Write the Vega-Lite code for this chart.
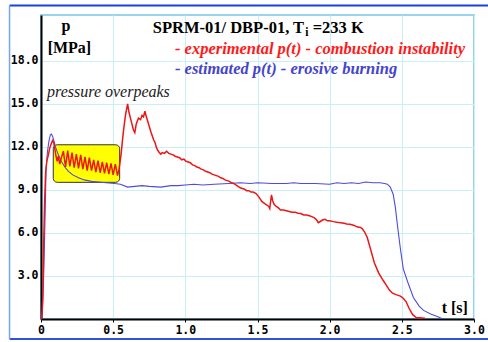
{
  "$schema": "https://vega.github.io/schema/vega-lite/v6.json",
  "width": 433,
  "height": 304,
  "autosize": {"type": "none"},
  "padding": {"left": 41, "top": 15, "right": 14, "bottom": 23},
  "background": "white",
  "config": {
    "view": {"stroke": "#98d4f0", "strokeWidth": 2},
    "axis": {"labelFont": "DejaVu Sans Mono", "labelFontWeight": "bold", "labelFontSize": 11.5, "labelColor": "#000000", "domainColor": "#000000", "domainWidth": 2, "gridColor": "#c8f0f8", "gridWidth": 1, "tickColor": "#000000"}
  },
  "datasets": {
    "red": [
      {"t":0.005,"p":0},{"t":0.012,"p":1.5},{"t":0.018,"p":5},{"t":0.025,"p":8.2},{"t":0.032,"p":10.2},{"t":0.04,"p":11.0},{"t":0.05,"p":11.4},{"t":0.06,"p":11.9},{"t":0.07,"p":12.2},{"t":0.08,"p":12.45},{"t":0.088,"p":12.3},{"t":0.095,"p":11.9},{"t":0.103,"p":11.4},{"t":0.112,"p":11.0},{"t":0.12,"p":11.35},{"t":0.13,"p":10.8},{"t":0.14,"p":11.2},{"t":0.155,"p":11.7},{"t":0.17,"p":10.6},{"t":0.185,"p":11.75},{"t":0.2,"p":10.65},{"t":0.215,"p":11.6},{"t":0.23,"p":10.55},{"t":0.245,"p":11.5},{"t":0.26,"p":10.5},{"t":0.275,"p":11.45},{"t":0.29,"p":10.45},{"t":0.305,"p":11.3},{"t":0.32,"p":10.35},{"t":0.335,"p":11.25},{"t":0.35,"p":10.35},{"t":0.365,"p":11.1},{"t":0.38,"p":10.25},{"t":0.395,"p":11.05},{"t":0.41,"p":10.2},{"t":0.425,"p":10.95},{"t":0.44,"p":10.15},{"t":0.455,"p":10.9},{"t":0.47,"p":10.1},{"t":0.485,"p":10.85},{"t":0.5,"p":10.05},{"t":0.515,"p":10.8},{"t":0.53,"p":10.0},{"t":0.54,"p":10.4},{"t":0.555,"p":11.5},{"t":0.57,"p":13.0},{"t":0.585,"p":14.2},{"t":0.6,"p":15.0},{"t":0.61,"p":14.4},{"t":0.625,"p":13.8},{"t":0.64,"p":13.2},{"t":0.65,"p":13.0},{"t":0.66,"p":13.6},{"t":0.675,"p":14.0},{"t":0.69,"p":13.9},{"t":0.7,"p":14.2},{"t":0.71,"p":14.1},{"t":0.72,"p":14.5},{"t":0.73,"p":14.1},{"t":0.745,"p":13.6},{"t":0.76,"p":13.1},
      {"t":0.78,"p":12.5},{"t":0.79,"p":12.3},{"t":0.8,"p":11.95},{"t":0.81,"p":11.75},{"t":0.82,"p":11.6},{"t":0.83,"p":11.5},{"t":0.84,"p":11.6},{"t":0.855,"p":11.55},{"t":0.87,"p":11.7},{"t":0.885,"p":11.55},{"t":0.9,"p":11.5},{"t":0.915,"p":11.45},{"t":0.93,"p":11.35},{"t":0.945,"p":11.3},{"t":0.96,"p":11.25},{"t":0.975,"p":11.1},{"t":0.99,"p":11.15},{"t":1.005,"p":11.0},{"t":1.02,"p":10.95},{"t":1.035,"p":10.9},{"t":1.05,"p":10.75},{"t":1.065,"p":10.7},{"t":1.08,"p":10.6},{"t":1.095,"p":10.55},{"t":1.11,"p":10.45},{"t":1.125,"p":10.4},{"t":1.14,"p":10.3},{"t":1.155,"p":10.25},{"t":1.17,"p":10.2},{"t":1.185,"p":10.1},{"t":1.2,"p":10.05},{"t":1.215,"p":10.0},{"t":1.23,"p":9.95},{"t":1.245,"p":9.85},{"t":1.26,"p":9.8},{"t":1.275,"p":9.7},{"t":1.29,"p":9.65},{"t":1.305,"p":9.6},{"t":1.32,"p":9.5},{"t":1.335,"p":9.45},{"t":1.35,"p":9.35},{"t":1.365,"p":9.25},{"t":1.38,"p":9.15},{"t":1.395,"p":9.1},{"t":1.41,"p":9.05},{"t":1.425,"p":8.95},{"t":1.44,"p":8.95},{"t":1.455,"p":8.85},{"t":1.47,"p":8.85},{"t":1.49,"p":8.75},{"t":1.51,"p":8.5},{"t":1.53,"p":8.2},{"t":1.55,"p":8.05},{"t":1.565,"p":7.95},{"t":1.578,"p":7.85},{"t":1.585,"p":7.7},{"t":1.592,"p":8.3},{"t":1.597,"p":8.65},{"t":1.605,"p":8.25},{"t":1.615,"p":8.0},{"t":1.63,"p":7.85},{"t":1.645,"p":7.75},{"t":1.66,"p":7.6},{"t":1.68,"p":7.6},{"t":1.7,"p":7.55},{"t":1.72,"p":7.5},{"t":1.74,"p":7.45},{"t":1.76,"p":7.45},{"t":1.78,"p":7.37},{"t":1.8,"p":7.35},{"t":1.82,"p":7.25},{"t":1.84,"p":7.25},{"t":1.86,"p":7.2},{"t":1.876,"p":7.14},{"t":1.895,"p":7.05},{"t":1.91,"p":6.9},{"t":1.921,"p":6.72},{"t":1.935,"p":6.8},{"t":1.95,"p":6.9},{"t":1.968,"p":6.95},{"t":1.985,"p":6.85},{"t":2.0,"p":6.85},{"t":2.025,"p":6.79},{"t":2.05,"p":6.75},{"t":2.075,"p":6.72},{"t":2.1,"p":6.68},{"t":2.118,"p":6.63},{"t":2.14,"p":6.6},{"t":2.16,"p":6.55},{"t":2.18,"p":6.48},{"t":2.198,"p":6.4},{"t":2.21,"p":6.4},{"t":2.225,"p":6.3},
      {"t":2.24,"p":6.1},{"t":2.26,"p":5.7},{"t":2.285,"p":4.8},{"t":2.31,"p":3.9},{"t":2.34,"p":3.2},{"t":2.37,"p":2.7},{"t":2.39,"p":2.4},{"t":2.415,"p":2.0},{"t":2.435,"p":1.8},{"t":2.46,"p":1.7},{"t":2.49,"p":1.6},{"t":2.51,"p":1.45},{"t":2.53,"p":1.2},{"t":2.55,"p":0.75},{"t":2.575,"p":0.3},{"t":2.6,"p":0.1},{"t":2.66,"p":0.05}
    ],
    "blue": [
      {"t":0.0,"p":0},{"t":0.01,"p":0.5},{"t":0.02,"p":3.5},{"t":0.03,"p":8.0},{"t":0.035,"p":10.4},{"t":0.045,"p":11.7},{"t":0.055,"p":12.4},{"t":0.065,"p":12.85},{"t":0.072,"p":12.9},{"t":0.08,"p":12.75},{"t":0.09,"p":12.4},{"t":0.1,"p":12.0},{"t":0.118,"p":11.5},{"t":0.14,"p":11.0},{"t":0.165,"p":10.6},{"t":0.19,"p":10.3},{"t":0.22,"p":10.05},{"t":0.26,"p":9.85},{"t":0.3,"p":9.7},{"t":0.35,"p":9.6},{"t":0.4,"p":9.55},{"t":0.45,"p":9.5},{"t":0.51,"p":9.45},{"t":0.55,"p":9.4},{"t":0.6,"p":9.2},{"t":0.65,"p":9.25},{"t":0.7,"p":9.3},{"t":0.75,"p":9.25},{"t":0.83,"p":9.2},{"t":0.9,"p":9.3},{"t":0.95,"p":9.3},{"t":1.0,"p":9.35},{"t":1.06,"p":9.4},{"t":1.12,"p":9.35},{"t":1.2,"p":9.4},{"t":1.3,"p":9.45},{"t":1.38,"p":9.5},{"t":1.45,"p":9.45},{"t":1.5,"p":9.5},{"t":1.6,"p":9.45},{"t":1.7,"p":9.45},{"t":1.75,"p":9.5},{"t":1.8,"p":9.45},{"t":1.9,"p":9.45},{"t":2.0,"p":9.4},{"t":2.05,"p":9.5},{"t":2.1,"p":9.45},{"t":2.15,"p":9.5},{"t":2.2,"p":9.45},{"t":2.25,"p":9.55},{"t":2.3,"p":9.5},{"t":2.35,"p":9.5},{"t":2.38,"p":9.45},{"t":2.4,"p":9.4},{"t":2.42,"p":9.2},{"t":2.44,"p":8.7},{"t":2.455,"p":7.8},{"t":2.47,"p":6.5},{"t":2.49,"p":4.9},{"t":2.51,"p":3.5},{"t":2.54,"p":2.6},{"t":2.58,"p":1.5},{"t":2.62,"p":0.9},{"t":2.65,"p":0.6},{"t":2.7,"p":0.35},{"t":2.75,"p":0.15},{"t":2.78,"p":0.02}
    ]
  },
  "layer": [
    {
      "data": {"values": [{}]},
      "mark": {"type": "rule", "color": "#1a3fe0", "strokeWidth": 2, "clip": false},
      "encoding": {
        "x": {"datum": -0.218, "type": "quantitative", "scale": {"domain": [0, 3]}},
        "x2": {"datum": 3.1},
        "y": {"datum": 21.86, "type": "quantitative", "scale": {"domain": [0, 21.2]}}
      }
    },
    {
      "data": {"values": [{}]},
      "mark": {"type": "rule", "color": "#3050e0", "strokeWidth": 2, "clip": false},
      "encoding": {
        "x": {"datum": -0.218, "type": "quantitative", "scale": {"domain": [0, 3]}},
        "x2": {"datum": 3.1},
        "y": {"datum": -1.4, "type": "quantitative", "scale": {"domain": [0, 21.2]}}
      }
    },
    {
      "data": {"values": [{}]},
      "mark": {"type": "rule", "color": "#70a8e8", "strokeWidth": 1.5, "clip": false},
      "encoding": {
        "x": {"datum": -0.218, "type": "quantitative", "scale": {"domain": [0, 3]}},
        "y": {"datum": 21.86, "type": "quantitative", "scale": {"domain": [0, 21.2]}},
        "y2": {"datum": -1.4}
      }
    },
    {
      "data": {"values": [{}]},
      "mark": {"type": "rect", "fill": "#ffff00", "stroke": "#333333", "strokeWidth": 1, "cornerRadius": 4},
      "encoding": {
        "x": {"datum": 0.085, "type": "quantitative", "scale": {"domain": [0, 3]}},
        "x2": {"datum": 0.545},
        "y": {"datum": 12.15, "type": "quantitative", "scale": {"domain": [0, 21.2]}},
        "y2": {"datum": 9.53}
      }
    },
    {
      "data": {"name": "blue"},
      "mark": {"type": "line", "color": "#4c4cdc", "strokeWidth": 1.1},
      "encoding": {
        "x": {"field": "t", "type": "quantitative", "scale": {"domain": [0, 3]},
              "axis": {"title": null, "values": [0, 0.5, 1, 1.5, 2, 2.5, 3], "labelExpr": "datum.value == 0 ? '0' : format(datum.value, '.1f')", "tickSize": 3, "labelPadding": 2, "grid": true, "labelFlush": false}},
        "y": {"field": "p", "type": "quantitative", "scale": {"domain": [0, 21.2]},
              "axis": {"title": null, "values": [3, 6, 9, 12, 15, 18], "format": ".1f", "ticks": false, "labelPadding": 3, "grid": true}}
      }
    },
    {
      "data": {"name": "red"},
      "mark": {"type": "line", "color": "#ee1515", "strokeWidth": 1.5},
      "encoding": {
        "x": {"field": "t", "type": "quantitative", "scale": {"domain": [0, 3]}},
        "y": {"field": "p", "type": "quantitative", "scale": {"domain": [0, 21.2]}}
      }
    },
    {
      "data": {"values": [{}]},
      "mark": {"type": "text", "text": "SPRM-01/ DBP-01, T", "align": "left", "baseline": "alphabetic", "font": "Liberation Serif", "fontWeight": "bold", "fontSize": 16.5, "color": "#000000"},
      "encoding": {
        "x": {"datum": 0.774, "type": "quantitative", "scale": {"domain": [0, 3]}},
        "y": {"datum": 19.94, "type": "quantitative", "scale": {"domain": [0, 21.2]}}
      }
    },
    {
      "data": {"values": [{}]},
      "mark": {"type": "text", "text": "i", "align": "left", "baseline": "alphabetic", "font": "Liberation Serif", "fontWeight": "bold", "fontSize": 11.5, "color": "#000000"},
      "encoding": {
        "x": {"datum": 1.831, "type": "quantitative", "scale": {"domain": [0, 3]}},
        "y": {"datum": 19.72, "type": "quantitative", "scale": {"domain": [0, 21.2]}}
      }
    },
    {
      "data": {"values": [{}]},
      "mark": {"type": "text", "text": "=233 K", "align": "left", "baseline": "alphabetic", "font": "Liberation Serif", "fontWeight": "bold", "fontSize": 16.5, "color": "#000000"},
      "encoding": {
        "x": {"datum": 1.882, "type": "quantitative", "scale": {"domain": [0, 3]}},
        "y": {"datum": 19.94, "type": "quantitative", "scale": {"domain": [0, 21.2]}}
      }
    },
    {
      "data": {"values": [{}]},
      "mark": {"type": "text", "text": "p", "align": "center", "baseline": "alphabetic", "font": "Liberation Serif", "fontWeight": "bold", "fontSize": 16, "color": "#000000"},
      "encoding": {
        "x": {"datum": 0.173, "type": "quantitative", "scale": {"domain": [0, 3]}},
        "y": {"datum": 20.08, "type": "quantitative", "scale": {"domain": [0, 21.2]}}
      }
    },
    {
      "data": {"values": [{}]},
      "mark": {"type": "text", "text": "[MPa]", "align": "left", "baseline": "alphabetic", "font": "Liberation Serif", "fontWeight": "bold", "fontSize": 16, "color": "#000000"},
      "encoding": {
        "x": {"datum": 0.046, "type": "quantitative", "scale": {"domain": [0, 3]}},
        "y": {"datum": 18.55, "type": "quantitative", "scale": {"domain": [0, 21.2]}}
      }
    },
    {
      "data": {"values": [{}]},
      "mark": {"type": "text", "text": "- experimental p(t) - combustion instability", "align": "left", "baseline": "alphabetic", "font": "Liberation Serif", "fontWeight": "bold", "fontStyle": "italic", "fontSize": 16.5, "color": "#ff1a1a"},
      "encoding": {
        "x": {"datum": 0.928, "type": "quantitative", "scale": {"domain": [0, 3]}},
        "y": {"datum": 18.48, "type": "quantitative", "scale": {"domain": [0, 21.2]}}
      }
    },
    {
      "data": {"values": [{}]},
      "mark": {"type": "text", "text": "- estimated p(t) - erosive burning", "align": "left", "baseline": "alphabetic", "font": "Liberation Serif", "fontWeight": "bold", "fontStyle": "italic", "fontSize": 16.5, "color": "#4444cc"},
      "encoding": {
        "x": {"datum": 0.928, "type": "quantitative", "scale": {"domain": [0, 3]}},
        "y": {"datum": 17.06, "type": "quantitative", "scale": {"domain": [0, 21.2]}}
      }
    },
    {
      "data": {"values": [{}]},
      "mark": {"type": "text", "text": "pressure overpeaks", "align": "left", "baseline": "alphabetic", "font": "Liberation Serif", "fontStyle": "italic", "fontSize": 16, "color": "#202020"},
      "encoding": {
        "x": {"datum": 0.042, "type": "quantitative", "scale": {"domain": [0, 3]}},
        "y": {"datum": 15.48, "type": "quantitative", "scale": {"domain": [0, 21.2]}}
      }
    },
    {
      "data": {"values": [{}]},
      "mark": {"type": "text", "text": "t [s]", "align": "left", "baseline": "alphabetic", "font": "Liberation Serif", "fontWeight": "bold", "fontSize": 16, "color": "#000000"},
      "encoding": {
        "x": {"datum": 2.776, "type": "quantitative", "scale": {"domain": [0, 3]}},
        "y": {"datum": 0.42, "type": "quantitative", "scale": {"domain": [0, 21.2]}}
      }
    }
  ]
}
